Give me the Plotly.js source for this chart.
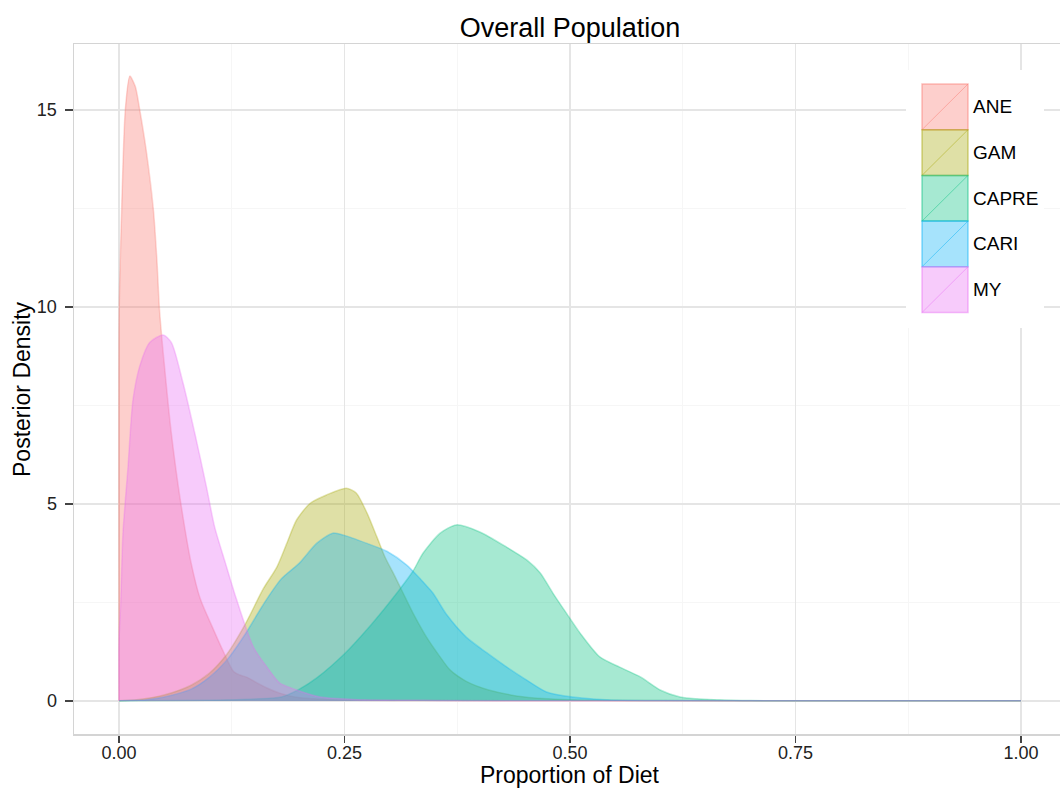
<!DOCTYPE html>
<html>
<head>
<meta charset="utf-8">
<script src="https://cdn.plot.ly/plotly-3.0.1.min.js"></script>
<style>html,body{margin:0;padding:0;background:#fff;}#chart{width:1060px;height:790px;}</style>
</head>
<body>
<div id="chart"></div>
<script>
// ---- data ----
const seriesNames = ["ANE", "GAM", "CAPRE", "CARI", "MY"];
const seriesColors = ["#F8766D", "#A3A500", "#00BF7D", "#00B0F6", "#E76BF3"];

const aneX = [0, 0, 0.003, 0.007, 0.012, 0.018, 0.023, 0.030, 0.038, 0.042, 0.045, 0.050, 0.058, 0.068, 0.080, 0.090, 0.104, 0.115, 0.127, 0.134, 0.142, 0.153, 0.164, 0.178, 0.195, 0.220, 0.260, 0.350, 0.500, 0.750, 1.000];
const aneY = [0, 9.6, 12.5, 15.0, 15.86, 15.6, 15.0, 14.0, 12.5, 11.2, 9.9, 8.6, 6.8, 5.1, 3.5, 2.6, 1.85, 1.29, 0.75, 0.66, 0.6, 0.46, 0.33, 0.2, 0.1, 0.05, 0.02, 0.01, 0.006, 0.006, 0.006];

const gamX = [0, 0.02, 0.05, 0.08, 0.10, 0.12, 0.14, 0.16, 0.175, 0.186, 0.197, 0.212, 0.230, 0.252, 0.263, 0.275, 0.286, 0.295, 0.304, 0.315, 0.326, 0.341, 0.356, 0.367, 0.385, 0.410, 0.450, 0.500, 0.600, 0.750, 1.000];
const gamY = [0.006, 0.03, 0.15, 0.4, 0.7, 1.2, 1.95, 2.85, 3.4, 4.0, 4.6, 5.02, 5.23, 5.4, 5.28, 4.77, 4.16, 3.65, 3.25, 2.74, 2.23, 1.62, 1.12, 0.79, 0.5, 0.28, 0.1, 0.03, 0.01, 0.006, 0.006];

const capreX = [0, 0.10, 0.15, 0.18, 0.20, 0.22, 0.25, 0.28, 0.31, 0.326, 0.337, 0.356, 0.374, 0.400, 0.430, 0.452, 0.467, 0.481, 0.496, 0.511, 0.533, 0.555, 0.578, 0.600, 0.622, 0.644, 0.700, 0.750, 1.000];
const capreY = [0.006, 0.02, 0.05, 0.1, 0.3, 0.6, 1.2, 1.95, 2.8, 3.3, 3.75, 4.26, 4.47, 4.29, 3.9, 3.58, 3.25, 2.74, 2.23, 1.73, 1.12, 0.86, 0.61, 0.28, 0.1, 0.05, 0.01, 0.006, 0.006];

const cariX = [0, 0.03, 0.05, 0.08, 0.10, 0.12, 0.14, 0.16, 0.18, 0.20, 0.219, 0.237, 0.249, 0.275, 0.297, 0.319, 0.334, 0.348, 0.363, 0.385, 0.408, 0.430, 0.452, 0.474, 0.503, 0.540, 0.600, 0.750, 1.000];
const cariY = [0.006, 0.03, 0.1, 0.3, 0.6, 1.05, 1.7, 2.45, 3.1, 3.5, 4.0, 4.26, 4.21, 4.0, 3.8, 3.45, 3.1, 2.74, 2.2, 1.62, 1.22, 0.86, 0.53, 0.23, 0.1, 0.03, 0.01, 0.006, 0.006];

const myX = [0, 0, 0.002, 0.0044, 0.010, 0.0155, 0.023, 0.034, 0.049, 0.058, 0.071, 0.084, 0.097, 0.106, 0.118, 0.130, 0.149, 0.164, 0.178, 0.197, 0.223, 0.260, 0.350, 0.500, 0.750, 1.000];
const myY = [0, 1.5, 2.56, 4.26, 5.94, 7.64, 8.5, 9.1, 9.29, 9.1, 8.07, 6.8, 5.43, 4.42, 3.5, 2.6, 1.37, 0.86, 0.46, 0.28, 0.1, 0.04, 0.015, 0.006, 0.006, 0.006];

const xTickVals = [0, 0.25, 0.5, 0.75, 1.0];
const xTickText = ["0.00", "0.25", "0.50", "0.75", "1.00"];
const yTickVals = [0, 5, 10, 15];
const yTickText = ["0", "5", "10", "15"];

const chartTitle = "Overall Population";
const xTitle = "Proportion of Diet";
const yTitle = "Posterior Density";

// ---- helpers ----
const ALPHA = 0.35;
function rgba(hex, a) {
  const r = parseInt(hex.slice(1, 3), 16), g = parseInt(hex.slice(3, 5), 16), b = parseInt(hex.slice(5, 7), 16);
  return `rgba(${r},${g},${b},${a})`;
}

const xs = [aneX, gamX, capreX, cariX, myX];
const ys = [aneY, gamY, capreY, cariY, myY];

const traces = seriesNames.map((name, i) => ({
  type: "scatter",
  mode: "lines",
  name: name,
  x: xs[i],
  y: ys[i],
  fill: "tozeroy",
  fillcolor: rgba(seriesColors[i], ALPHA),
  line: { color: rgba(seriesColors[i], 0.3), width: 1.5, shape: "spline", smoothing: 0.7 },
  showlegend: false,
  hoverinfo: "x+y+name"
}));

// ---- layout geometry (pixels) ----
const W = 1060, H = 790;
const M = { l: 74, r: 0, t: 44, b: 56 };
const plotW = W - M.l - M.r, plotH = H - M.t - M.b;
const px2paperX = px => (px - M.l) / plotW;
const px2paperY = py => (H - M.b - py) / plotH;

const font = "Liberation Sans, Arial, sans-serif";

// custom ggplot-style legend
const shapes = [];
const annotations = [];
shapes.push({
  type: "rect", xref: "paper", yref: "paper", layer: "above",
  x0: px2paperX(906), x1: px2paperX(1044), y0: px2paperY(328), y1: px2paperY(70),
  fillcolor: "#ffffff", line: { width: 0 }
});
const keyL = 922, keyR = 968, keyTop = 84, keyH = 45.7;
seriesNames.forEach((name, i) => {
  const t = keyTop + i * keyH, b = t + keyH;
  shapes.push({
    type: "rect", xref: "paper", yref: "paper", layer: "above",
    x0: px2paperX(keyL), x1: px2paperX(keyR), y0: px2paperY(b), y1: px2paperY(t),
    fillcolor: rgba(seriesColors[i], ALPHA), line: { color: rgba(seriesColors[i], 0.45), width: 1.5 }
  });
  shapes.push({
    type: "line", xref: "paper", yref: "paper", layer: "above",
    x0: px2paperX(keyL), x1: px2paperX(keyR), y0: px2paperY(b), y1: px2paperY(t),
    line: { color: rgba(seriesColors[i], 0.45), width: 1 }
  });
  annotations.push({
    xref: "paper", yref: "paper", x: px2paperX(971), y: px2paperY(t + keyH / 2),
    xanchor: "left", yanchor: "middle", showarrow: false, text: name,
    font: { family: font, size: 19, color: "#000" }
  });
});

// axis titles placed as in the reference
annotations.push({
  xref: "paper", yref: "paper", x: px2paperX(570), y: px2paperY(775),
  xanchor: "center", yanchor: "middle", showarrow: false, text: xTitle,
  font: { family: font, size: 23, color: "#000" }
});
annotations.push({
  xref: "paper", yref: "paper", x: px2paperX(22), y: px2paperY(389),
  xanchor: "center", yanchor: "middle", showarrow: false, text: yTitle, textangle: -90,
  font: { family: font, size: 23, color: "#000" }
});

const layout = {
  width: W, height: H,
  margin: M,
  paper_bgcolor: "#ffffff",
  plot_bgcolor: "#ffffff",
  font: { family: font, color: "#000" },
  title: {
    text: chartTitle,
    font: { family: font, size: 27, color: "#000" },
    x: px2paperX(570), xref: "paper", xanchor: "center",
    y: 1 - 28 / H, yref: "container", yanchor: "middle"
  },
  xaxis: {
    range: [-(119 - 74) / 902, (1060 - 119) / 902],
    tickvals: xTickVals, ticktext: xTickText,
    ticks: "outside", ticklen: 7, tickwidth: 1.5, tickcolor: "#444",
    ticklabelstandoff: -5,
    tickfont: { family: font, size: 18, color: "#222" },
    showgrid: true, gridcolor: "#e5e5e5", gridwidth: 1.5,
    minor: { dtick: 0.125, tick0: 0, showgrid: true, gridcolor: "#f6f6f6", gridwidth: 1.2, ticks: "" },
    zeroline: false,
    showline: true, mirror: true, linecolor: "#d4d4d4", linewidth: 1.5,
    automargin: false, fixedrange: true
  },
  yaxis: {
    range: [-(734 - 701) / 39.4, (701 - 44) / 39.4],
    tickvals: yTickVals, ticktext: yTickText,
    ticks: "outside", ticklen: 8, tickwidth: 1.5, tickcolor: "#444",
    ticklabelstandoff: 4,
    tickfont: { family: font, size: 18, color: "#222" },
    showgrid: true, gridcolor: "#e5e5e5", gridwidth: 1.5,
    minor: { dtick: 2.5, tick0: 0, showgrid: true, gridcolor: "#f6f6f6", gridwidth: 1.2, ticks: "" },
    zeroline: false,
    showline: true, mirror: false, linecolor: "#d4d4d4", linewidth: 1.5,
    automargin: false, fixedrange: true
  },
  shapes: shapes,
  annotations: annotations,
  showlegend: false
};

Plotly.newPlot("chart", traces, layout, { displayModeBar: false, staticPlot: true });
</script>
</body>
</html>
